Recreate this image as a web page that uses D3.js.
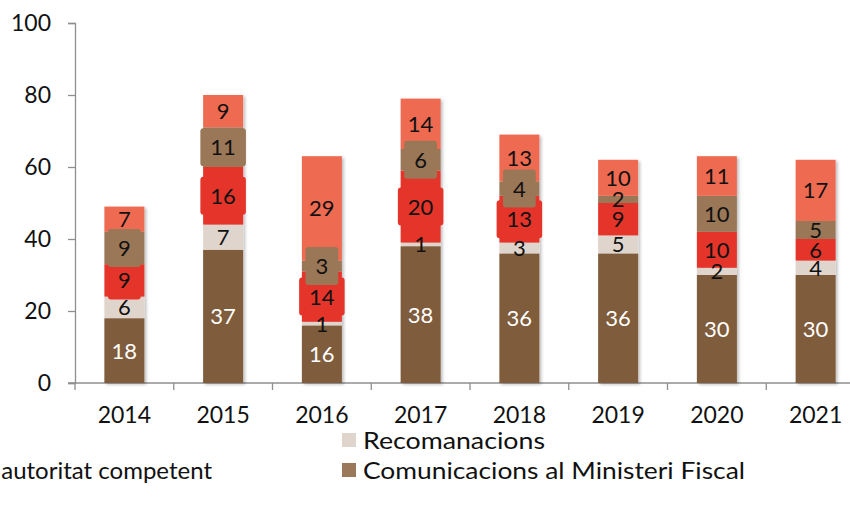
<!DOCTYPE html>
<html>
<head>
<meta charset="utf-8">
<script src="https://cdn.jsdelivr.net/npm/d3@7"></script>
<style>
  body { margin: 0; background: #fff; }
  svg { display: block; font-family: Lato, "Open Sans", sans-serif; }
</style>
</head>
<body>
<div id="chart"></div>
<script>
// years on the x axis
const years = ["2014", "2015", "2016", "2017", "2018", "2019", "2020", "2021"];

// stacked series, bottom to top
const seriesKeys = ["fiscal", "recom", "red", "mid", "coral"];
const fiscal = [18, 37, 16, 38, 36, 36, 30, 30];
const recom  = [6, 7, 1, 1, 3, 5, 2, 4];
const red    = [9, 16, 14, 20, 13, 9, 10, 6];
const mid    = [9, 11, 3, 6, 4, 2, 10, 5];
const coral  = [7, 9, 29, 14, 13, 10, 11, 17];

const yTicks = [0, 20, 40, 60, 80, 100];

// visible legend entries
const legendItems = [
    { label: "Recomanacions", color: "#e0d5cc" },
    { label: "Comunicacions al Ministeri Fiscal", color: "#9b7859" }
];

const colors = {
    fiscal: "#7f5b3a",
    recom: "#e0d5cc",
    red: "#e5352b",
    mid: "#9a7757",
    coral: "#ee6a51"
};

// label boxes only appear on these years in the original
const boxedYears = ["2014", "2015", "2016", "2017", "2018"];
const boxedSeries = ["red", "mid"];

const width = 850, height = 508;

const svg = d3.select("#chart").append("svg")
    .attr("width", width)
    .attr("height", height);

// soft shadow behind the bars
const defs = svg.append("defs");
defs.append("filter")
    .attr("id", "shadow")
    .attr("x", "-20%").attr("y", "-5%")
    .attr("width", "150%").attr("height", "115%")
    .append("feDropShadow")
    .attr("dx", 2).attr("dy", 1.5)
    .attr("stdDeviation", 1.5)
    .attr("flood-color", "#000")
    .attr("flood-opacity", 0.25);

const table = years.map((y, i) => ({
    year: y, fiscal: fiscal[i], recom: recom[i], red: red[i], mid: mid[i], coral: coral[i]
}));

const stacked = d3.stack().keys(seriesKeys)(table);

const xScale = d3.scaleBand()
    .domain(years)
    .range([75, 865])
    .paddingInner(0.595)
    .paddingOuter(0.2975);

const yScale = d3.scaleLinear()
    .domain([0, 100])
    .range([383, 23]);

// y axis
const yAxis = svg.append("g")
    .attr("transform", "translate(75,0)")
    .call(d3.axisLeft(yScale).tickValues(yTicks).tickSize(7).tickPadding(17));
yAxis.select(".domain").attr("stroke", "#8f8f8f").attr("stroke-width", 1.3);
yAxis.selectAll(".tick line").attr("stroke", "#8f8f8f").attr("stroke-width", 1.3);
yAxis.selectAll(".tick text")
    .attr("fill", "#111")
    .style("font-size", "23px")
    .style("font-family", "Lato, sans-serif");

// x axis, ticks between categories
const xAxisG = svg.append("g").attr("transform", "translate(0,383)");
xAxisG.append("line")
    .attr("x1", 68).attr("x2", 850)
    .attr("stroke", "#8f8f8f").attr("stroke-width", 1.3);
xAxisG.selectAll(".sep")
    .data(years)
    .join("line")
    .attr("x1", d => xScale(d) - xScale.step() * xScale.paddingInner() / 2)
    .attr("x2", d => xScale(d) - xScale.step() * xScale.paddingInner() / 2)
    .attr("y1", 0).attr("y2", 7)
    .attr("stroke", "#8f8f8f").attr("stroke-width", 1.3);
xAxisG.selectAll(".lbl")
    .data(years)
    .join("text")
    .attr("x", d => xScale(d) + xScale.bandwidth() / 2)
    .attr("y", 40)
    .attr("text-anchor", "middle")
    .attr("fill", "#111")
    .style("font-size", "23px")
    .text(d => d);

// bars
const layers = svg.append("g").attr("filter", "url(#shadow)");
layers.selectAll("g")
    .data(stacked)
    .join("g")
    .attr("fill", d => colors[d.key])
    .selectAll("rect")
    .data(d => d)
    .join("rect")
    .attr("x", d => xScale(d.data.year))
    .attr("width", xScale.bandwidth())
    .attr("y", d => yScale(d[1]))
    .attr("height", d => yScale(d[0]) - yScale(d[1]));

// data labels
const labelOrder = ["fiscal", "recom", "coral", "red", "mid"];
const labelsG = svg.append("g");
labelOrder.forEach(key => {
    const layer = stacked.find(s => s.key === key);
    const g = labelsG.append("g");
    layer.forEach(d => {
        const cx = xScale(d.data.year) + xScale.bandwidth() / 2;
        const cy = yScale((d[0] + d[1]) / 2);
        const v = d[1] - d[0];
        const t = g.append("text")
            .attr("x", cx)
            .attr("y", cy)
            .attr("dy", "0.36em")
            .attr("text-anchor", "middle")
            .attr("fill", key === "fiscal" ? "#fff" : "#111")
            .style("font-size", "22px")
            .text(v);
        if (boxedSeries.includes(key) && boxedYears.includes(d.data.year)) {
            const w = t.node().getComputedTextLength() + 20;
            g.insert("rect", () => t.node())
                .attr("x", cx - w / 2)
                .attr("y", cy - 19)
                .attr("width", w)
                .attr("height", 38)
                .attr("rx", 3)
                .attr("fill", colors[key]);
        }
    });
});

// legend (partly outside the frame, as in the original)
const legend = svg.append("g");
const lg = legend.selectAll("g")
    .data(legendItems)
    .join("g")
    .attr("transform", (d, i) => `translate(342, ${433 + i * 30})`);
lg.append("rect")
    .attr("width", 14).attr("height", 14)
    .attr("fill", d => d.color);
lg.append("text")
    .attr("x", 21).attr("y", 7)
    .attr("dy", "0.36em")
    .attr("fill", "#111")
    .style("font-size", "24px")
    .attr("textLength", (d, i) => i === 0 ? 182 : 382)
    .attr("lengthAdjust", "spacingAndGlyphs")
    .text(d => d.label);

legend.append("text")
    .attr("x", 212).attr("y", 470)
    .attr("dy", "0.36em")
    .attr("text-anchor", "end")
    .attr("fill", "#111")
    .style("font-size", "24px")
    .text("autoritat competent");
</script>
</body>
</html>
